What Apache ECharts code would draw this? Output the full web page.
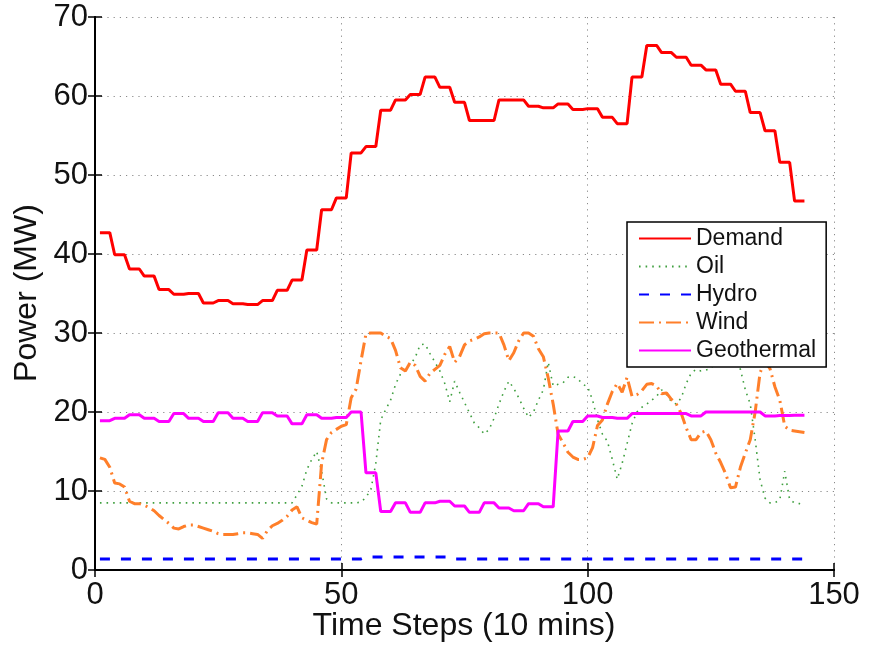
<!DOCTYPE html>
<html>
<head>
<meta charset="utf-8">
<script src="https://cdn.jsdelivr.net/npm/echarts@6/dist/echarts.min.js"></script>
<style>
html,body{margin:0;padding:0;background:#fff;}
#chart{width:869px;height:645px;}
</style>
</head>
<body>
<div id="chart"></div>
<script>
// Time steps 1..144 (10-minute steps)
const seriesNames = ['Demand', 'Oil', 'Hydro', 'Wind', 'Geothermal'];
const xTicks = [0, 50, 100, 150];
const yTicks = [0, 10, 20, 30, 40, 50, 60, 70];
const xTitle = 'Time Steps (10 mins)';
const yTitle = 'Power (MW)';

const demand = [42.7,42.7,42.7, 39.9,39.9,39.9, 38.1,38.1,38.1, 37.2,37.2,37.2, 35.5,35.5,35.5, 34.9,34.9,34.9,
  35.0,35.0,35.0, 33.8,33.8,33.8, 34.1,34.1,34.1, 33.7,33.7,33.7, 33.6,33.6,33.6, 34.1,34.1,34.1,
  35.4,35.4,35.4, 36.7,36.7,36.7, 40.5,40.5,40.5, 45.6,45.6,45.6, 47.1,47.1,47.1, 52.8,52.8,52.8,
  53.6,53.6,53.6, 58.2,58.2,58.2, 59.5,59.5,59.5, 60.2,60.2,60.2, 62.4,62.4,62.4, 61.1,61.1,61.1,
  59.2,59.2,59.2, 56.9,56.9,56.9, 56.9,56.9,56.9, 59.5,59.5,59.5, 59.5,59.5,59.5, 58.7,58.7,58.7,
  58.5,58.5,58.5, 59.0,59.0,59.0, 58.3,58.3,58.3, 58.4,58.4,58.4, 57.3,57.3,57.3, 56.5,56.5,56.5,
  62.4,62.4,62.4, 66.4,66.4,66.4, 65.5,65.5,65.5, 64.9,64.9,64.9, 63.9,63.9,63.9, 63.3,63.3,63.3,
  61.5,61.5,61.5, 60.6,60.6,60.6, 57.9,57.9,57.9, 55.6,55.6,55.6, 51.6,51.6,51.6, 46.7,46.7,46.7];

const oil = [8.5,8.5,8.5,8.5,8.5,8.5,8.5,8.5,8.5,8.5, 8.5,8.5,8.5,8.5,8.5,8.5,8.5,8.5,8.5,8.5,
  8.5,8.5,8.5,8.5,8.5,8.5,8.5,8.5,8.5,8.5, 8.5,8.5,8.5,8.5,8.5,8.5,8.5,8.5,8.5,8.5,
  9.5,10.6,12.7,14.0,15.0,12.5,9.0,8.5,8.5,8.5, 8.5,8.5,8.5,8.6,9.2,10.2,13.5,19.0,20.3,21.5,
  23.5,24.8,25.6,26.0,26.9,28.5,28.6,27.4,26.3,25.2, 23.6,21.3,23.9,22.5,21.2,19.9,18.6,18.0,17.2,17.8,
  19.2,21.0,22.6,23.9,23.0,21.8,20.5,19.3,20.0,21.5, 22.8,26.3,23.3,23.5,23.7,24.4,24.5,24.2,23.5,23.2,
  21.5,19.0,17.2,16.3,14.0,11.5,13.5,16.0,18.5,20.0, 20.6,21.0,21.5,22.0,22.8,22.2,21.3,21.0,21.8,23.6,
  24.9,25.4,25.2,25.3,25.5,26.5,27.0,27.2,27.0,26.5, 25.4,22.8,21.0,16.5,11.4,9.1,8.5,8.5,8.9,12.5,
  8.9,8.5,8.4,8.3];

const hydro = [1.4,1.4,1.4,1.4,1.4,1.4,1.4,1.4,1.4,1.4, 1.4,1.4,1.4,1.4,1.4,1.4,1.4,1.4,1.4,1.4,
  1.4,1.4,1.4,1.4,1.4,1.4,1.4,1.4,1.4,1.4, 1.4,1.4,1.4,1.4,1.4,1.4,1.4,1.4,1.4,1.4,
  1.4,1.4,1.4,1.4,1.4,1.4,1.4,1.4,1.4,1.4, 1.4,1.4,1.4,1.4,1.65,1.65,1.65,1.65,1.65,1.65,
  1.65,1.65,1.65,1.65,1.65,1.65,1.65,1.65,1.65,1.65, 1.65,1.65,1.4,1.4,1.4,1.4,1.4,1.4,1.4,1.4,
  1.4,1.4,1.4,1.4,1.4,1.4,1.4,1.4,1.4,1.4, 1.4,1.4,1.4,1.4,1.4,1.4,1.4,1.4,1.4,1.4,
  1.4,1.4,1.4,1.4,1.4,1.4,1.4,1.4,1.4,1.4, 1.4,1.4,1.4,1.4,1.4,1.4,1.4,1.4,1.4,1.4,
  1.4,1.4,1.4,1.4,1.4,1.4,1.4,1.4,1.4,1.4, 1.4,1.4,1.4,1.4,1.4,1.4,1.4,1.4,1.4,1.4,
  1.4,1.4,1.4,1.4];

const wind = [14.2,14.0,13.0,11.0,10.9,10.5,8.7,8.4,8.4,8.2, 7.9,7.5,6.9,6.4,5.9,5.3,5.2,5.5,5.7,5.7,
  5.5,5.3,5.1,4.9,4.6,4.5,4.5,4.5,4.6,4.7, 4.7,4.6,4.5,4.0,5.0,5.6,5.9,6.3,6.8,7.6,
  8.0,6.6,6.3,6.0,5.8,13.5,16.5,17.4,17.8,18.2, 18.4,21.8,22.9,26.5,29.9,30.0,30.0,30.0,29.6,29.3,
  27.8,25.6,25.2,26.3,25.9,24.5,23.9,24.9,25.4,25.9, 27.3,28.3,26.3,27.0,28.5,29.0,29.2,29.5,29.9,30.0,
  30.0,30.0,28.5,26.5,27.5,29.0,30.0,30.0,29.6,28.0, 27.0,24.3,21.0,17.2,16.1,14.9,14.3,14.0,14.0,14.2,
  15.5,18.3,19.0,21.0,22.6,23.6,22.5,24.4,22.0,22.2, 22.7,23.5,23.6,23.3,22.3,22.4,21.6,21.0,19.8,18.0,
  16.5,16.5,17.4,17.6,16.5,14.8,13.6,12.2,10.4,10.5, 13.0,14.8,16.5,20.0,25.0,26.4,25.5,23.2,21.5,18.2,
  17.7,17.6,17.5,17.4];

const geothermal = [18.9,18.9,18.9, 19.2,19.2,19.2, 19.65,19.65,19.65, 19.2,19.2,19.2, 18.8,18.8,18.8, 19.8,19.8,19.8,
  19.2,19.2,19.2, 18.8,18.8,18.8, 19.9,19.9,19.9, 19.2,19.2,19.2, 18.8,18.8,18.8, 19.9,19.9,19.9,
  19.5,19.5,19.5, 18.5,18.5,18.5, 19.65,19.65,19.65, 19.2,19.2,19.2, 19.3,19.3,19.3, 20.0,20.0,20.0,
  12.3,12.3,12.3, 7.4,7.4,7.4, 8.5,8.5,8.5, 7.3,7.3,7.3, 8.5,8.5,8.5, 8.7,8.7,8.7,
  8.1,8.1,8.1, 7.3,7.3,7.3, 8.5,8.5,8.5, 7.85,7.85,7.85, 7.5,7.5,7.5, 8.4,8.4,8.4,
  8.0,8.0,8.0, 17.6,17.6,17.6, 18.8,18.8,18.8, 19.5,19.5,19.5, 19.3,19.3,19.3, 19.2,19.2,19.2,
  19.8,19.8,19.8, 19.8,19.8,19.8, 19.8,19.8,19.8, 19.8,19.8,19.8, 19.5,19.5,19.5, 20.0,20.0,20.0,
  20.0,20.0,20.0, 20.0,20.0,20.0, 20.0,20.0,20.0, 19.5,19.5,19.5, 19.55,19.55,19.55, 19.6,19.6,19.6];

const toPairs = arr => arr.map((v, i) => [i + 1, v]);

const FONT = '"Liberation Sans", Arial, Helvetica, sans-serif';
const chart = echarts.init(document.getElementById('chart'), null, {renderer: 'canvas'});

const gridLine = {show: true, lineStyle: {color: '#8a8a8a', width: 1, type: [1.2, 5]}};
const tickStyle = {show: true, inside: true, length: 7, lineStyle: {color: '#000', width: 1.5}};
const axisLineStyle = {show: true, lineStyle: {color: '#000', width: 2}};

const option = {
  backgroundColor: '#fff',
  animation: false,
  grid: {left: 95, right: 35, top: 17, bottom: 75, outerBoundsMode: 'none', containLabel: false},
  graphic: [
    {type: 'text', x: 464, y: 626, z: 20,
      style: {text: xTitle, fontFamily: FONT, fontSize: 32, fill: '#111', align: 'center', verticalAlign: 'middle'}},
    {type: 'text', x: 27, y: 293, rotation: Math.PI / 2, z: 20,
      style: {text: yTitle, fontFamily: FONT, fontSize: 32, fill: '#111', align: 'center', verticalAlign: 'middle'}}
  ],
  legend: {
    orient: 'vertical',
    left: 627, top: 222,
    data: seriesNames,
    backgroundColor: '#fff',
    borderColor: '#000', borderWidth: 1.5,
    padding: [5, 10, 5, 11],
    itemWidth: 52, itemHeight: 12, itemGap: 5,
    itemStyle: {opacity: 0, borderWidth: 0},
    textStyle: {fontFamily: FONT, fontSize: 23, color: '#111', lineHeight: 23, padding: [0, 0, 0, 0]},
    z: 10
  },
  xAxis: [{
    type: 'value', min: 0, max: 150, interval: 50,
    axisLine: axisLineStyle, axisTick: tickStyle,
    axisLabel: {fontFamily: FONT, fontSize: 31, color: '#111', margin: 10,
      formatter: v => xTicks.includes(v) ? String(v) : ''},
    splitLine: gridLine
  }, {
    type: 'value', min: 0, max: 150, interval: 50, position: 'top',
    axisLine: axisLineStyle, axisTick: tickStyle, axisLabel: {show: false}, splitLine: {show: false}
  }],
  yAxis: [{
    type: 'value', min: 0, max: 70, interval: 10,
    axisLine: axisLineStyle, axisTick: tickStyle,
    axisLabel: {fontFamily: FONT, fontSize: 31, color: '#111', margin: 7,
      formatter: v => yTicks.includes(v) ? String(v) : ''},
    splitLine: gridLine
  }, {
    type: 'value', min: 0, max: 70, interval: 10, position: 'right',
    axisLine: axisLineStyle, axisTick: tickStyle, axisLabel: {show: false}, splitLine: {show: false}
  }],
  series: [
    {name: 'Demand', type: 'line', data: toPairs(demand), symbol: 'none', z: 3,
      lineStyle: {color: '#ff0000', width: 3}, itemStyle: {color: '#ff0000'}},
    {name: 'Oil', type: 'line', data: toPairs(oil), symbol: 'none', z: 3,
      lineStyle: {color: '#3f9f3f', width: 1.6, type: [1.6, 5]}, itemStyle: {color: '#3f9f3f'}},
    {name: 'Hydro', type: 'line', data: toPairs(hydro), symbol: 'none', z: 3,
      lineStyle: {color: '#0000ff', width: 3, type: [10, 11]}, itemStyle: {color: '#0000ff'}},
    {name: 'Wind', type: 'line', data: toPairs(wind), symbol: 'none', z: 3,
      lineStyle: {color: '#ff7f2a', width: 3, type: [15, 5, 2, 5]}, itemStyle: {color: '#ff7f2a'}},
    {name: 'Geothermal', type: 'line', data: toPairs(geothermal), symbol: 'none', z: 3,
      lineStyle: {color: '#ff00ff', width: 3}, itemStyle: {color: '#ff00ff'}}
  ]
};
chart.setOption(option);
</script>
</body>
</html>
